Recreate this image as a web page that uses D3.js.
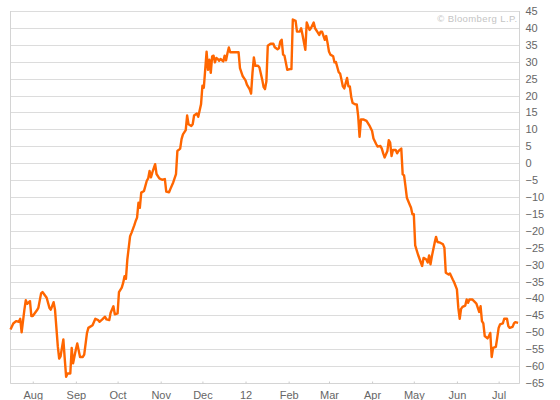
<!DOCTYPE html>
<html>
<head>
<meta charset="utf-8">
<script src="https://cdn.jsdelivr.net/npm/d3@7"></script>
<style>
  body { margin: 0; background: #fff; }
  svg { display: block; font-family: Arial, "Liberation Sans", sans-serif; }
</style>
</head>
<body>
<svg id="chart" width="560" height="400"></svg>
<script>
// y axis tick values
const yTicks = d3.range(-65, 46, 5);

// observation dates (Jul 2011 - Jul 2012)
const dates = [
  "2011-07-16","2011-07-18","2011-07-20","2011-07-22","2011-07-23","2011-07-24","2011-07-26","2011-07-27","2011-07-28","2011-07-30",
  "2011-07-31","2011-08-01","2011-08-04","2011-08-05","2011-08-07","2011-08-08","2011-08-11","2011-08-13","2011-08-14","2011-08-16",
  "2011-08-17","2011-08-19","2011-08-20","2011-08-21","2011-08-23","2011-08-24","2011-08-25","2011-08-26","2011-08-28","2011-08-29",
  "2011-08-30","2011-09-01","2011-09-02","2011-09-04","2011-09-06","2011-09-07","2011-09-09","2011-09-10","2011-09-13","2011-09-15",
  "2011-09-17","2011-09-18","2011-09-20","2011-09-22","2011-09-23","2011-09-25","2011-09-26","2011-09-28","2011-09-29","2011-10-01",
  "2011-10-02","2011-10-04","2011-10-05","2011-10-06","2011-10-07","2011-10-08","2011-10-10","2011-10-11","2011-10-13","2011-10-14",
  "2011-10-15","2011-10-16","2011-10-17","2011-10-18","2011-10-20","2011-10-22","2011-10-23","2011-10-24","2011-10-25","2011-10-26",
  "2011-10-28","2011-10-29","2011-10-31","2011-11-02","2011-11-04","2011-11-05","2011-11-07","2011-11-08","2011-11-10","2011-11-12",
  "2011-11-13","2011-11-15","2011-11-16","2011-11-17","2011-11-19","2011-11-20","2011-11-21","2011-11-23","2011-11-24","2011-11-25",
  "2011-11-27","2011-11-28","2011-11-30","2011-12-01","2011-12-02","2011-12-04","2011-12-05","2011-12-06","2011-12-07","2011-12-08",
  "2011-12-09","2011-12-10","2011-12-11","2011-12-12","2011-12-13","2011-12-14","2011-12-16","2011-12-17","2011-12-18","2011-12-19",
  "2011-12-20","2011-12-21","2011-12-24","2011-12-27","2011-12-28","2011-12-30","2012-01-01","2012-01-02","2012-01-04","2012-01-05",
  "2012-01-06","2012-01-07","2012-01-08","2012-01-10","2012-01-11","2012-01-13","2012-01-14","2012-01-15","2012-01-16","2012-01-17",
  "2012-01-19","2012-01-21","2012-01-22","2012-01-24","2012-01-25","2012-01-26","2012-01-27","2012-01-28","2012-01-29","2012-01-31",
  "2012-02-02","2012-02-03","2012-02-04","2012-02-06","2012-02-07","2012-02-09","2012-02-10","2012-02-11","2012-02-13","2012-02-14",
  "2012-02-16","2012-02-17","2012-02-19","2012-02-20","2012-02-22","2012-02-23","2012-02-24","2012-02-25","2012-02-27","2012-02-28",
  "2012-02-29","2012-03-01","2012-03-02","2012-03-04","2012-03-05","2012-03-06","2012-03-08","2012-03-09","2012-03-10","2012-03-11",
  "2012-03-12","2012-03-14","2012-03-15","2012-03-16","2012-03-17","2012-03-18","2012-03-20","2012-03-21","2012-03-22","2012-03-23",
  "2012-03-24","2012-03-26","2012-03-28","2012-03-30","2012-04-01","2012-04-02","2012-04-04","2012-04-05","2012-04-07","2012-04-08",
  "2012-04-09","2012-04-10","2012-04-12","2012-04-13","2012-04-14","2012-04-15","2012-04-16","2012-04-18","2012-04-19","2012-04-20",
  "2012-04-22","2012-04-23","2012-04-24","2012-04-25","2012-04-26","2012-04-28","2012-04-29","2012-04-30","2012-05-01","2012-05-02",
  "2012-05-04","2012-05-06","2012-05-07","2012-05-08","2012-05-10","2012-05-11","2012-05-12","2012-05-13","2012-05-14","2012-05-16",
  "2012-05-17","2012-05-18","2012-05-20","2012-05-22","2012-05-23","2012-05-24","2012-05-26","2012-05-27","2012-05-29","2012-05-30",
  "2012-06-01","2012-06-02","2012-06-03","2012-06-04","2012-06-05","2012-06-07","2012-06-08","2012-06-09","2012-06-10","2012-06-12",
  "2012-06-14","2012-06-15","2012-06-17","2012-06-18","2012-06-19","2012-06-20","2012-06-21","2012-06-23","2012-06-24","2012-06-25",
  "2012-06-26","2012-06-27","2012-06-29","2012-06-30","2012-07-01","2012-07-02","2012-07-04","2012-07-05","2012-07-07","2012-07-08",
  "2012-07-09","2012-07-11","2012-07-12","2012-07-13","2012-07-15"
];

// values, one per date
const values = [
  -49.2,-47.4,-46.7,-46.9,-46.0,-50.0,-43.3,-40.5,-41.6,-40.8,
  -45.2,-45.2,-43.5,-42.8,-38.5,-38.1,-39.8,-42.8,-43.3,-41.1,
  -43.3,-54.1,-57.8,-57.1,-52.1,-57.8,-63.2,-62.2,-62.2,-54.6,
  -59.2,-55.1,-53.3,-57.3,-57.3,-56.6,-50.2,-48.7,-47.9,-46.0,
  -46.4,-46.9,-46.2,-45.4,-46.2,-46.4,-44.2,-42.3,-44.7,-44.4,
  -38.1,-36.8,-35.4,-33.4,-34.2,-28.5,-21.6,-20.6,-18.4,-17.1,
  -16.1,-11.7,-13.2,-8.7,-8.2,-5.2,-4.5,-2.3,-4.2,-2.7,
  -0.3,-3.2,-4.5,-4.9,-4.7,-8.4,-8.6,-7.6,-5.7,-3.2,
  3.6,4.3,7.1,8.5,9.8,14.1,11.5,11.0,11.5,14.1,
  14.7,13.7,17.4,22.9,22.3,33.0,27.6,30.6,26.7,31.6,
  31.8,29.8,31.1,30.8,30.3,30.8,30.1,31.8,30.4,32.5,
  34.2,32.8,32.8,32.8,28.1,25.7,24.5,23.2,21.8,20.6,
  26.7,31.3,28.8,28.8,28.3,24.7,22.5,21.9,24.2,34.7,
  35.3,35.3,34.3,33.7,34.0,36.0,36.5,32.1,31.8,27.6,
  27.8,27.8,42.5,42.1,38.9,38.9,39.9,37.9,33.5,41.6,
  39.4,39.9,41.6,39.9,38.6,37.9,38.9,38.9,36.5,37.6,
  35.5,33.0,32.1,31.6,29.8,29.9,26.9,26.5,24.7,22.7,
  22.1,25.2,22.7,22.7,19.6,17.8,17.4,17.4,13.9,7.8,
  12.9,12.9,12.5,11.2,9.5,7.3,5.6,4.9,5.1,4.3,
  2.9,1.7,3.6,6.8,6.1,2.1,3.9,3.9,2.9,3.6,
  4.3,-3.3,-3.6,-6.8,-10.2,-12.2,-13.2,-15.1,-15.1,-24.3,
  -27.0,-29.3,-30.4,-28.0,-28.5,-29.4,-27.3,-29.9,-27.5,-23.5,
  -21.8,-23.3,-23.5,-24.0,-25.0,-32.4,-32.9,-32.6,-34.4,-35.2,
  -37.3,-42.8,-46.0,-43.1,-42.5,-42.1,-40.3,-41.3,-40.3,-40.3,
  -41.1,-41.5,-44.0,-42.3,-46.7,-47.4,-51.1,-51.8,-51.1,-50.2,
  -57.3,-54.6,-54.3,-51.6,-48.7,-47.7,-47.4,-46.0,-46.0,-48.2,
  -48.7,-48.4,-47.4,-47.0,-47.2
];

const parse = d3.timeParse("%Y-%m-%d");
const data = dates.map((d, i) => ({ date: parse(d), value: values[i] }));

const plotLeft = 10.5, plotRight = 519.5, plotTop = 11, plotBottom = 383;
const svg = d3.select("#chart");

const x = d3.scaleTime()
  .domain([parse("2011-07-16"), parse("2012-07-16")])
  .range([plotLeft, plotRight]);
const y = d3.scaleLinear().domain([-65, 45]).range([plotBottom, plotTop]);

// horizontal grid
svg.append("g")
  .selectAll("line")
  .data(yTicks)
  .join("line")
  .attr("x1", plotLeft).attr("x2", plotRight)
  .attr("y1", d => Math.round(y(d)) + 0.5)
  .attr("y2", d => Math.round(y(d)) + 0.5)
  .attr("stroke", "#dcdcdc");

// frame: left, right, bottom
svg.append("path")
  .attr("d", `M${plotLeft},${plotTop}V${Math.round(plotBottom) + 0.5}H${plotRight}V${plotTop}`)
  .attr("fill", "none")
  .attr("stroke", "#d4d4d4");

// right value labels
const yAxis = d3.axisRight(y).tickValues(yTicks).tickSize(0).tickPadding(6);
const gy = svg.append("g").attr("transform", `translate(${plotRight},0)`).call(yAxis);
gy.select(".domain").remove();
gy.selectAll("text")
  .attr("fill", "#666")
  .style("font-size", "11px")
  .style("font-family", "Arial, 'Liberation Sans', sans-serif");

// month ticks along the bottom
const months = d3.timeMonth.range(parse("2011-08-01"), parse("2012-07-16"));
const fmt = d => d.getMonth() === 0 ? d3.timeFormat("%y")(d) : d3.timeFormat("%b")(d);
const xAxis = d3.axisBottom(x).tickValues(months).tickFormat(fmt).tickSizeInner(-2).tickSizeOuter(0).tickPadding(8);
const gx = svg.append("g").attr("transform", `translate(0,${Math.round(plotBottom) + 0.5})`).call(xAxis);
gx.select(".domain").remove();
gx.selectAll(".tick line").attr("stroke", "#ccc");
gx.selectAll("text")
  .attr("fill", "#666")
  .style("font-size", "11px")
  .style("font-family", "Arial, 'Liberation Sans', sans-serif");

// watermark
svg.append("text")
  .attr("x", plotRight - 2).attr("y", 22)
  .attr("text-anchor", "end")
  .attr("fill", "#c4c4c4")
  .style("font-size", "9.5px")
  .style("letter-spacing", "0.4px")
  .text("\u00a9 Bloomberg L.P.");

// the line
const line = d3.line().x(d => x(d.date)).y(d => y(d.value));
svg.append("path")
  .datum(data)
  .attr("fill", "none")
  .attr("stroke", "#ff6600")
  .attr("stroke-width", 2.4)
  .attr("stroke-linejoin", "round")
  .attr("d", line);
</script>
</body>
</html>
